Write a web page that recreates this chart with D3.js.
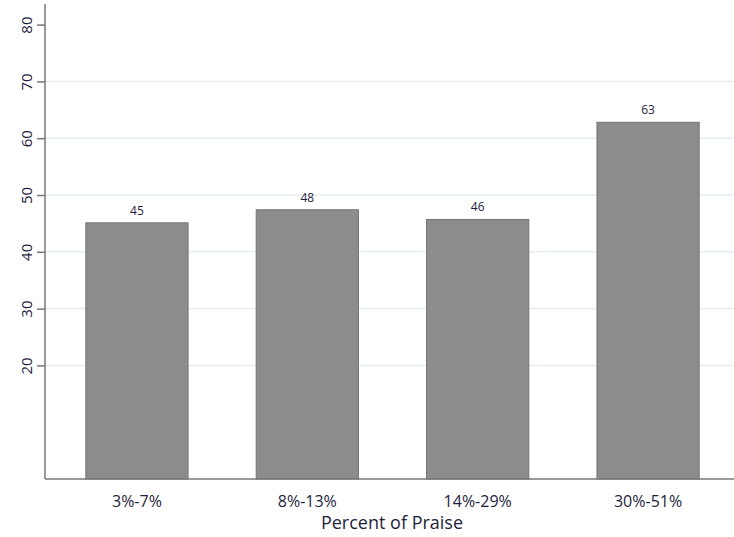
<!DOCTYPE html>
<html>
<head>
<meta charset="utf-8">
<script src="https://cdn.jsdelivr.net/npm/d3@7"></script>
<style>
  html, body { margin: 0; padding: 0; background: #fff; }
  svg { display: block; }
  text { font-family: "Open Sans", Lato, sans-serif; fill: #1e1e3c; }
</style>
</head>
<body>
<svg id="chart" width="734" height="537"></svg>
<script>
const categories = ["3%-7%", "8%-13%", "14%-29%", "30%-51%"];
const values = [45.1, 47.4, 45.7, 62.8];
const valueLabels = ["45", "48", "46", "63"];
const yTicks = [20, 30, 40, 50, 60, 70, 80];
const gridTicks = [20, 30, 40, 50, 60, 70];
const xTitle = "Percent of Praise";

const svg = d3.select("#chart");
const W = 734, H = 537;
const axisX = 45, baseY = 479;
const FONT = "'Open Sans', Lato, sans-serif";

const y = d3.scaleLinear().domain([0, 80]).range([baseY, 24.6]);
const x = d3.scaleBand().domain(categories).range([51.75, 733.25])
  .paddingInner(0.4).paddingOuter(0.2);

// gridlines
svg.append("g").selectAll("line").data(gridTicks).join("line")
  .attr("x1", axisX).attr("x2", W)
  .attr("y1", d => y(d)).attr("y2", d => y(d))
  .attr("stroke", "#e6eff0").attr("stroke-width", 1.5);

// bars
svg.append("g").selectAll("rect").data(values).join("rect")
  .attr("x", (d, i) => x(categories[i]))
  .attr("y", d => y(d))
  .attr("width", x.bandwidth())
  .attr("height", d => baseY - y(d))
  .attr("fill", "#8c8c8c")
  .attr("stroke", "#747474").attr("stroke-width", 1);

// value labels
svg.append("g").selectAll("text").data(values).join("text")
  .attr("x", (d, i) => x(categories[i]) + x.bandwidth() / 2)
  .attr("y", d => y(d) - 8)
  .attr("text-anchor", "middle")
  .attr("font-size", 12)
  .text((d, i) => valueLabels[i]);

// y axis
const yAxis = d3.axisLeft(y).tickValues(yTicks).tickSize(8).tickPadding(0).tickFormat(d3.format("d"));
const yg = svg.append("g").attr("transform", `translate(${axisX},0)`).call(yAxis);
yg.select(".domain").remove();
yg.selectAll(".tick line").attr("stroke", "#777").attr("stroke-width", 1.5);
yg.selectAll(".tick text")
  .attr("transform", "rotate(-90)")
  .attr("x", 0).attr("y", -18).attr("dy", "0.35em")
  .attr("text-anchor", "middle")
  .attr("font-size", 15)
  .style("font-family", FONT)
  .attr("fill", "#1e1e3c");
svg.append("line").attr("x1", axisX).attr("x2", axisX).attr("y1", 4).attr("y2", baseY)
  .attr("stroke", "#777").attr("stroke-width", 1.5);

// x axis
const xAxis = d3.axisBottom(x).tickSize(0).tickPadding(17);
const xg = svg.append("g").attr("transform", `translate(0,${baseY})`).call(xAxis);
xg.select(".domain").remove();
xg.selectAll(".tick text")
  .attr("font-size", 16)
  .style("font-family", FONT)
  .attr("fill", "#1e1e3c");
svg.append("line").attr("x1", axisX).attr("x2", W).attr("y1", baseY).attr("y2", baseY)
  .attr("stroke", "#777").attr("stroke-width", 1.5);

// x title
svg.append("text")
  .attr("x", 392)
  .attr("y", 529)
  .attr("text-anchor", "middle")
  .attr("font-size", 18)
  .text(xTitle);
</script>
</body>
</html>
